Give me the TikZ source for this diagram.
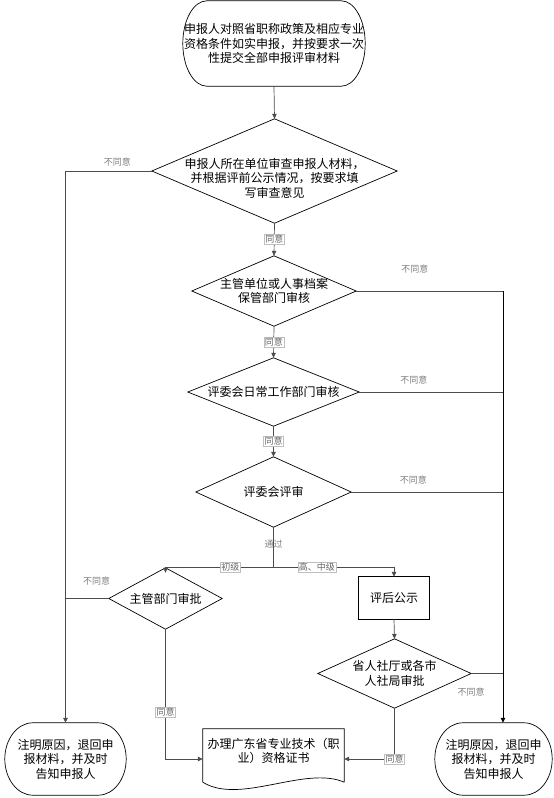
\documentclass[tikz,border=0pt]{standalone}
\usepackage{fontspec}
\newfontfamily\cjk{Noto Sans CJK SC}
\usetikzlibrary{arrows.meta,calc}
\newcommand\termshape[3]{%
  \draw[shp] ([xshift=#2pt]#1.north west) -- ([xshift=-#2pt]#1.north east)
    .. controls ([xshift={-0.448*#2pt}]#1.north east) and ([yshift={0.552*#3pt}]#1.east) .. (#1.east)
    .. controls ([yshift={-0.552*#3pt}]#1.east) and ([xshift={-0.448*#2pt}]#1.south east) .. ([xshift=-#2pt]#1.south east)
    -- ([xshift=#2pt]#1.south west)
    .. controls ([xshift={0.448*#2pt}]#1.south west) and ([yshift={-0.552*#3pt}]#1.west) .. (#1.west)
    .. controls ([yshift={0.552*#3pt}]#1.west) and ([xshift={0.448*#2pt}]#1.north west) .. ([xshift=#2pt]#1.north west) -- cycle;}
\begin{document}
\begin{tikzpicture}[x=1pt,y=-1pt,
  box/.style={rectangle, inner sep=0pt, align=center, font=\cjk\fontsize{12}{14.5}\selectfont},
  shp/.style={draw=black, line width=0.7pt},
  ln/.style={draw=black!70, line width=0.7pt},
  arr/.style={ln, -{Triangle[length=5pt,width=4.5pt]}},
  no/.style={font=\cjk\fontsize{9}{10}\selectfont, text=black!50, inner sep=1pt},
  yes/.style={font=\cjk\fontsize{9}{10}\selectfont, text=black!60, fill=white, draw=black!25, line width=0.4pt, inner sep=1pt}]
\useasboundingbox (0,0) rectangle (554,798);
% nodes
\node[box, minimum width=182pt, minimum height=85pt] (start) at (274,43.5)
  {申报人对照省职称政策及相应专业\\资格条件如实申报，并按要求一次\\性提交全部申报评审材料};
\node[box, minimum width=245pt, minimum height=104pt] (d1) at (274.5,171) {};
\node[box] (d1t) at ([yshift=-7pt]d1.center) {申报人所在单位审查申报人材料，\\并根据评前公示情况，按要求填\\写审查意见};
\node[box, minimum width=164pt, minimum height=70pt] (d2) at (274,291) {主管单位或人事档案\\保管部门审核};
\node[box, minimum width=171pt, minimum height=68pt] (d3) at (273.5,392) {评委会日常工作部门审核};
\node[box, minimum width=155pt, minimum height=70pt] (d4) at (273.5,492) {评委会评审};
\node[box, minimum width=113pt, minimum height=61pt] (d5) at (165.5,598.5) {主管部门审批};
\node[box, minimum width=70pt, minimum height=42pt] (pub) at (394,598) {评后公示};
\node[box, minimum width=153pt, minimum height=69pt] (d6) at (394.5,673.5) {省人社厅或各市\\人社局审批};
\node[box, minimum width=141pt, minimum height=53pt] (doc) at (273.5,755.5) {};
\node[box] (doct) at ([yshift=4.5pt]doc.center) {办理广东省专业技术（职\\业）资格证书};
\node[box, minimum width=121pt, minimum height=72pt] (lt) at (65.5,759) {注明原因，退回申\\报材料，并及时\\告知申报人};
\node[box, minimum width=117pt, minimum height=72pt] (rt) at (493.5,759) {注明原因，退回申\\报材料，并及时\\告知申报人};
% shapes
\termshape{start}{24}{42.5}
\termshape{lt}{28}{36}
\termshape{rt}{28}{36}
\foreach \n in {d1,d2,d3,d4,d5,d6}
  \draw[shp] (\n.north) -- (\n.east) -- (\n.south) -- (\n.west) -- cycle;
\draw[shp] (pub.south west) rectangle (pub.north east);
\draw[shp] (doc.south east) -- (doc.north east) -- (doc.north west) -- (doc.south west)
  .. controls ([xshift=37pt,yshift=-23pt]doc.south west) and ([xshift=-39pt,yshift=17pt]doc.south east) .. (doc.south east);
% helper coordinates
\coordinate (rj) at (503,291);
\coordinate (split) at (273.5,567);
% connectors
\draw[arr] (start.south) -- (d1.north);
\draw[arr] (d1.south) -- node[yes]{同意} (d2.north);
\draw[arr] (d2.south) -- node[yes]{同意} (d3.north);
\draw[arr] (d3.south) -- node[yes]{同意} (d4.north);
\draw[arr] (d1.west) -| node[no, pos=0.2, above=3pt]{不同意} (lt.north);
\draw[ln] (d2.east) -- node[no, pos=0.4, above=16pt]{不同意} (rj);
\draw[ln] (d3.east) -- node[no, pos=0.38, above=6pt]{不同意} (d3.east -| rj);
\draw[ln] (d4.east) -- node[no, pos=0.41, above=6pt]{不同意} (d4.east -| rj);
\draw[ln] (d6.east) -- node[no, pos=0, below=13pt]{不同意} (d6.east -| rj);
\draw[arr, draw=black, line width=1pt] (rj) -- (rj |- rt.north);
\draw[ln] (d4.south) -- node[no, pos=0.42]{通过} (split);
\draw[arr] (split) -| node[yes, pos=0.2]{初级} ([yshift=-5pt]d5.north);
\draw[arr] (split) -| node[yes, pos=0.18]{高、中级} (pub.north);
\draw[arr] (pub.south) -- (d6.north);
\draw[ln] (d5.west) -- node[no, pos=0.28, above=12pt]{不同意} (d5.west -| lt.north);
\draw[arr] (d5.south) |- node[yes, pos=0.32]{同意} ([yshift=-3.5pt]doc.west);
\draw[arr] (d6.south) |- node[yes, pos=0.5]{同意} ([yshift=-3.5pt]doc.east);
\end{tikzpicture}
\end{document}
